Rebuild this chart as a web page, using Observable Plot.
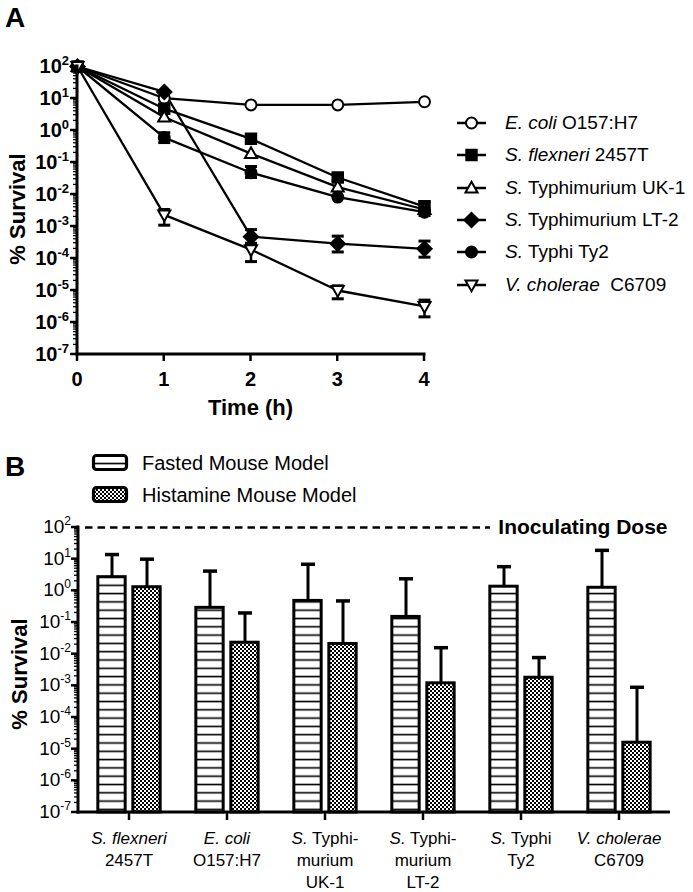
<!DOCTYPE html>
<html>
<head>
<meta charset="utf-8">
<script src="https://cdn.jsdelivr.net/npm/d3@7"></script>
<script src="https://cdn.jsdelivr.net/npm/@observablehq/plot@0.6"></script>
<style>
 html,body{margin:0;padding:0;background:#fff;}
 #wrap{position:relative;width:693px;height:892px;overflow:hidden;background:#fff;font-family:"Liberation Sans",Arial,Helvetica,sans-serif;color:#000;}
 #wrap > *{position:absolute;}
 .panel{font-weight:bold;font-size:28px;line-height:1;}
 .legA{font-size:19px;white-space:nowrap;display:flex;align-items:center;height:24px;}
 .legB{font-size:20px;white-space:nowrap;display:flex;align-items:center;height:24px;font-family:"Liberation Sans Narrow","Arial Narrow","Liberation Sans",sans-serif;}
</style>
</head>
<body>
<svg width="0" height="0" style="position:absolute">
<defs>
 <pattern id="hstripe" patternUnits="userSpaceOnUse" width="10" height="8.3">
   <rect width="10" height="8.3" fill="white"/>
   <rect y="3.4" width="10" height="1.6" fill="black"/>
 </pattern>
 <pattern id="checker" patternUnits="userSpaceOnUse" width="4" height="4">
   <rect width="4" height="4" fill="white"/>
   <rect width="2" height="2" fill="black"/>
   <rect x="2" y="2" width="2" height="2" fill="black"/>
 </pattern>
</defs>
</svg>
<div id="wrap"></div>
<script>
// ---------------- DATA: Panel A ----------------
const times = [0, 1, 2, 3, 4];
const seriesKeys = ["ecoli", "flexneri", "uk1", "lt2", "ty2", "vch"];
const seriesItalic = ["E. coli", "S. flexneri", "S.", "S.", "S.", "V. cholerae"];
const seriesPlain = [" O157:H7", " 2457T", " Typhimurium UK-1", " Typhimurium LT-2", " Typhi Ty2", "  C6709"];
const ecoliValues    = [100, 10.2, 6.3, 6.3, 7.9];
const flexneriValues = [100, 4.8, 0.55, 0.034, 0.0042];
const uk1Values      = [100, 2.6, 0.19, 0.017, 0.0034];
const lt2Values      = [100, 16, 4.8e-4, 2.9e-4, 2e-4];
const ty2Values      = [100, 0.6, 0.048, 0.0083, 0.0028];
const vchValues      = [100, 0.0023, 1.9e-4, 1e-5, 3.2e-6];
// error bars (low / high), null = hidden behind marker
const flexneriLow  = [null, null, null, 0.027, 0.003];
const flexneriHigh = [null, null, null, 0.045, 0.006];
const ty2Low  = [null, 0.42, 0.034, null, 0.0022];
const ty2High = [null, 0.85, 0.075, null, 0.0036];
const lt2Low  = [null, null, 3e-4, 1.6e-4, 1.1e-4];
const lt2High = [null, null, 8e-4, 5e-4, 3.5e-4];
const vchLow  = [null, 0.0011, 8e-5, 5.5e-6, 1.5e-6];
const vchHigh = [null, 0.0034, 2.7e-4, 1.4e-5, 5e-6];
const yTickExponents = [2, 1, 0, -1, -2, -3, -4, -5, -6, -7];

// ---------------- DATA: Panel B ----------------
const categories = ["flexneri", "ecoli", "uk1", "lt2", "ty2", "vch"];
const catLine1Italic = ["S. flexneri", "E. coli", "S.", "S.", "S.", "V. cholerae"];
const catLine1Plain  = ["", "", " Typhi-", " Typhi-", " Typhi", ""];
const catLine2 = ["2457T", "O157:H7", "murium", "murium", "Ty2", "C6709"];
const catLine3 = ["", "", "UK-1", "LT-2", "", ""];
const fastedValues    = [2.7, 0.29, 0.48, 0.15, 1.35, 1.25];
const fastedErrTop    = [14, 4.2, 6.9, 2.4, 5.8, 19];
const histamineValues = [1.3, 0.023, 0.021, 0.0012, 0.0018, 1.6e-5];
const histamineErrTop = [10, 0.2, 0.48, 0.016, 0.0078, 9e-4];
const modelNames = ["Fasted Mouse Model", "Histamine Mouse Model"];
const inoculatingDose = 100;

// ---------------- helpers ----------------
function sym(kind) {
  return {draw(ctx, size) {
    const r = Math.sqrt(size / Math.PI);
    if (kind === "circle") { ctx.moveTo(r, 0); ctx.arc(0, 0, r, 0, 2 * Math.PI); }
    else if (kind === "square") { const s = 0.95 * r; ctx.moveTo(-s, -s); ctx.lineTo(s, -s); ctx.lineTo(s, s); ctx.lineTo(-s, s); ctx.closePath(); }
    else if (kind === "up") { ctx.moveTo(0, -1.15 * r); ctx.lineTo(1.1 * r, 0.8 * r); ctx.lineTo(-1.1 * r, 0.8 * r); ctx.closePath(); }
    else if (kind === "down") { ctx.moveTo(0, 1.15 * r); ctx.lineTo(1.1 * r, -0.8 * r); ctx.lineTo(-1.1 * r, -0.8 * r); ctx.closePath(); }
    else if (kind === "diamond") { const s = 1.3 * r; ctx.moveTo(0, -s); ctx.lineTo(s, 0); ctx.lineTo(0, s); ctx.lineTo(-s, 0); ctx.closePath(); }
    else if (kind === "cap") { ctx.moveTo(-r, 0); ctx.lineTo(r, 0); }
  }};
}
const seriesSymbol = ["circle", "square", "up", "diamond", "circle", "down"];
const seriesFill = ["white", "black", "white", "black", "black", "white"];
const capSym = sym("cap");

function scaleFn(s) {
  if (s && typeof s.apply === "function") return v => s.apply(v);
  if (s.type === "log") return d3.scaleLog().domain(s.domain).range(s.range);
  if (s.type === "band") return d3.scaleBand().domain(s.domain).range(s.range).paddingInner(s.paddingInner || 0).paddingOuter(s.paddingOuter || 0).align(s.align ?? 0.5);
  return d3.scaleLinear().domain(s.domain).range(s.range);
}

function logAxis(plot, opt) {
  const svg = d3.select(plot);
  const y = scaleFn(plot.scale("y"));
  const xr = plot.scale("x").range;
  const x0 = Math.min(xr[0], xr[1]);
  const g = svg.append("g").attr("stroke", "black");
  const top = y(Math.pow(10, d3.max(yTickExponents))), bot = y(Math.pow(10, d3.min(yTickExponents)));
  g.append("line").attr("x1", x0).attr("x2", x0).attr("y1", top - 1.5).attr("y2", bot + 1.5).attr("stroke-width", 3);
  yTickExponents.forEach(e => {
    const yy = y(Math.pow(10, e));
    g.append("line").attr("x1", x0 - 7).attr("x2", x0).attr("y1", yy).attr("y2", yy).attr("stroke-width", 2.5);
    if (e < d3.max(yTickExponents)) {
      for (let k = 2; k <= 9; k++) {
        const ym = y(k * Math.pow(10, e));
        g.append("line").attr("x1", x0 - 4).attr("x2", x0).attr("y1", ym).attr("y2", ym).attr("stroke-width", 1.3);
      }
    }
    const t = svg.append("text").attr("x", x0 - opt.gap).attr("y", yy + opt.base)
      .attr("text-anchor", "end").attr("font-family", opt.family).attr("font-size", opt.size)
      .attr("font-weight", opt.weight).attr("fill", "black");
    t.append("tspan").text("10");
    t.append("tspan").attr("dy", -opt.supDy).attr("font-size", opt.supSize).text(e < 0 ? "-" + (-e) : String(e));
  });
  return {x0, bot};
}

const wrap = document.getElementById("wrap");

// ---------------- Panel A ----------------
const rowsA = [];
const allValues = [ecoliValues, flexneriValues, uk1Values, lt2Values, ty2Values, vchValues];
const allLow = [null, flexneriLow, null, lt2Low, ty2Low, vchLow];
const allHigh = [null, flexneriHigh, null, lt2High, ty2High, vchHigh];
seriesKeys.forEach((s, i) => times.forEach((t, j) => rowsA.push({
  series: s, time: t, value: allValues[i][j],
  lo: allLow[i] ? allLow[i][j] : null, hi: allHigh[i] ? allHigh[i][j] : null
})));
const errA = rowsA.filter(d => d.lo != null);

const marksA = [
  Plot.line(rowsA, {x: "time", y: "value", z: "series", stroke: "black", strokeWidth: 2.3}),
  Plot.ruleX(errA, {x: "time", y1: "lo", y2: "hi", stroke: "black", strokeWidth: 2.5}),
  Plot.dot(errA, {x: "time", y: "lo", symbol: capSym, r: 6, fill: "none", stroke: "black", strokeWidth: 3}),
  Plot.dot(errA, {x: "time", y: "hi", symbol: capSym, r: 6, fill: "none", stroke: "black", strokeWidth: 3})
];
seriesKeys.forEach((s, i) => {
  marksA.push(Plot.dot(rowsA.filter(d => d.series === s), {
    x: "time", y: "value", symbol: sym(seriesSymbol[i]), r: 5.5,
    fill: seriesFill[i], stroke: "black", strokeWidth: 2
  }));
});

const plotA = Plot.plot({
  width: 693, height: 430,
  marginLeft: 77, marginRight: 269, marginTop: 66, marginBottom: 76,
  x: {domain: [d3.min(times), d3.max(times)], axis: null},
  y: {type: "log", domain: [Math.pow(10, d3.min(yTickExponents)), Math.pow(10, d3.max(yTickExponents))], axis: null},
  marks: marksA
});
plotA.style.position = "absolute"; plotA.style.left = "0px"; plotA.style.top = "0px";
wrap.appendChild(plotA);
{
  const ax = logAxis(plotA, {gap: 8, base: 7, family: "Liberation Sans, Arial, sans-serif", size: 20, weight: "bold", supSize: 13, supDy: 8});
  const svg = d3.select(plotA);
  const x = scaleFn(plotA.scale("x"));
  const xr = plotA.scale("x").range;
  svg.append("line").attr("x1", xr[0] - 1.5).attr("x2", xr[1] + 1.5).attr("y1", ax.bot).attr("y2", ax.bot).attr("stroke", "black").attr("stroke-width", 3);
  times.forEach(t => {
    svg.append("line").attr("x1", x(t)).attr("x2", x(t)).attr("y1", ax.bot).attr("y2", ax.bot + 7).attr("stroke", "black").attr("stroke-width", 2.5);
    svg.append("text").attr("x", x(t)).attr("y", ax.bot + 32).attr("text-anchor", "middle")
      .attr("font-family", "Liberation Sans Narrow, Liberation Sans, Arial, sans-serif").attr("font-size", 20).attr("font-weight", "bold").text(String(t));
  });
  svg.append("text").attr("x", (xr[0] + xr[1]) / 2).attr("y", ax.bot + 61).attr("text-anchor", "middle")
    .attr("font-family", "Liberation Sans Narrow, Liberation Sans, Arial, sans-serif").attr("font-size", 22).attr("font-weight", "bold").text("Time (h)");
  svg.append("text").attr("transform", "translate(25,209) rotate(-90)").attr("text-anchor", "middle")
    .attr("font-family", "Liberation Sans, Arial, sans-serif").attr("font-size", 22).attr("font-weight", "bold").text("% Survival");
}

// Panel labels
const lblA = document.createElement("div"); lblA.className = "panel"; lblA.style.left = "5px"; lblA.style.top = "4px"; lblA.textContent = "A"; wrap.appendChild(lblA);
const lblB = document.createElement("div"); lblB.className = "panel"; lblB.style.left = "5px"; lblB.style.top = "453px"; lblB.textContent = "B"; wrap.appendChild(lblB);

// Legend A
seriesKeys.forEach((s, i) => {
  const row = document.createElement("div");
  row.className = "legA";
  row.style.left = "455px";
  row.style.top = (123 + 32.3 * i - 12) + "px";
  const svg = d3.create("svg").attr("width", 34).attr("height", 24);
  svg.append("line").attr("x1", 2).attr("x2", 31).attr("y1", 12).attr("y2", 12).attr("stroke", "black").attr("stroke-width", 2.5);
  const p = d3.path();
  sym(seriesSymbol[i]).draw(p, Math.PI * 5.5 * 5.5);
  svg.append("path").attr("d", p.toString()).attr("transform", "translate(16.5,12)").attr("fill", seriesFill[i]).attr("stroke", "black").attr("stroke-width", 2);
  row.appendChild(svg.node());
  const txt = document.createElement("span");
  txt.style.marginLeft = "16px";
  const it = document.createElement("i"); it.textContent = seriesItalic[i];
  txt.appendChild(it);
  txt.appendChild(document.createTextNode(seriesPlain[i]));
  txt.style.whiteSpace = "pre";
  row.appendChild(txt);
  wrap.appendChild(row);
});

// ---------------- Panel B ----------------
const rowsF = categories.map((c, i) => ({cat: c, value: fastedValues[i], err: fastedErrTop[i]}));
const rowsH = categories.map((c, i) => ({cat: c, value: histamineValues[i], err: histamineErrTop[i]}));
const widthB = 693, mL = 78, mR = 23;
const bw = (widthB - mL - mR) / categories.length;
const barW = 28, off = 17.5;
const fInL = bw / 2 - off - barW / 2, fInR = bw - fInL - barW;
const hInL = bw / 2 + off - barW / 2, hInR = bw - hInL - barW;
const yMinB = Math.pow(10, d3.min(yTickExponents));

const plotB = Plot.plot({
  width: widthB, height: 452,
  marginLeft: mL, marginRight: mR, marginTop: 87, marginBottom: 80,
  x: {domain: categories, padding: 0, axis: null},
  y: {type: "log", domain: [yMinB, Math.pow(10, d3.max(yTickExponents))], axis: null},
  marks: [
    Plot.ruleY([inoculatingDose], {y: d => d, stroke: "black", strokeWidth: 2.5, strokeDasharray: "7.5,5", insetLeft: 7, insetRight: 180}),
    Plot.text([inoculatingDose], {y: d => d, text: () => "Inoculating Dose", frameAnchor: "right", textAnchor: "end", dx: -3,
      fontSize: 21, fontWeight: "bold", fontFamily: "Liberation Sans Narrow, Liberation Sans, Arial, sans-serif", fill: "black"}),
    Plot.ruleX(rowsF, {x: "cat", y1: "value", y2: "err", dx: -off, stroke: "black", strokeWidth: 3}),
    Plot.ruleX(rowsH, {x: "cat", y1: "value", y2: "err", dx: off, stroke: "black", strokeWidth: 3}),
    Plot.barY(rowsF, {x: "cat", y1: () => yMinB, y2: "value", insetLeft: fInL, insetRight: fInR, fill: "url(#hstripe)", stroke: "black", strokeWidth: 3}),
    Plot.barY(rowsH, {x: "cat", y1: () => yMinB, y2: "value", insetLeft: hInL, insetRight: hInR, fill: "url(#checker)", stroke: "black", strokeWidth: 3}),
    Plot.dot(rowsF, {x: "cat", y: "err", dx: -off, symbol: capSym, r: 7, fill: "none", stroke: "black", strokeWidth: 3.5}),
    Plot.dot(rowsH, {x: "cat", y: "err", dx: off, symbol: capSym, r: 7, fill: "none", stroke: "black", strokeWidth: 3.5})
  ]
});
plotB.style.position = "absolute"; plotB.style.left = "0px"; plotB.style.top = "440px";
wrap.appendChild(plotB);
{
  const ax = logAxis(plotB, {gap: 7, base: 6, family: "Liberation Sans Narrow, Liberation Sans, Arial, sans-serif", size: 19, weight: "normal", supSize: 12, supDy: 8});
  const svg = d3.select(plotB);
  const sx = plotB.scale("x");
  const x = scaleFn(sx);
  const bwid = sx.bandwidth || (x.bandwidth ? x.bandwidth() : bw);
  const xr = sx.range;
  svg.append("line").attr("x1", xr[0] - 1.5).attr("x2", xr[1]).attr("y1", ax.bot).attr("y2", ax.bot).attr("stroke", "black").attr("stroke-width", 3);
  categories.forEach((c, i) => {
    const cx = x(c) + bwid / 2;
    svg.append("line").attr("x1", cx).attr("x2", cx).attr("y1", ax.bot).attr("y2", ax.bot + 8).attr("stroke", "black").attr("stroke-width", 2.5);
    const fam = "Liberation Sans, Arial, sans-serif";
    const t1 = svg.append("text").attr("x", cx).attr("y", ax.bot + 32).attr("text-anchor", "middle").attr("font-family", fam).attr("font-size", 17).attr("xml:space", "preserve");
    t1.append("tspan").attr("font-style", "italic").text(catLine1Italic[i]);
    if (catLine1Plain[i]) t1.append("tspan").text(catLine1Plain[i]);
    svg.append("text").attr("x", cx).attr("y", ax.bot + 54).attr("text-anchor", "middle").attr("font-family", fam).attr("font-size", 17).text(catLine2[i]);
    if (catLine3[i]) svg.append("text").attr("x", cx).attr("y", ax.bot + 76).attr("text-anchor", "middle").attr("font-family", fam).attr("font-size", 17).text(catLine3[i]);
  });
  svg.append("text").attr("transform", "translate(27,234) rotate(-90)").attr("text-anchor", "middle")
    .attr("font-family", "Liberation Sans, Arial, sans-serif").attr("font-size", 22).attr("font-weight", "bold").text("% Survival");
}

// Legend B
modelNames.forEach((m, i) => {
  const row = document.createElement("div");
  row.className = "legB";
  row.style.left = "90px";
  row.style.top = (463 + 32 * i - 12) + "px";
  const svg = d3.create("svg").attr("width", 40).attr("height", 24);
  svg.append("rect").attr("x", 3.5).attr("y", 4.5).attr("width", 33).attr("height", 14).attr("rx", 3)
    .attr("fill", i === 0 ? "url(#hstripe)" : "url(#checker)").attr("stroke", "black").attr("stroke-width", 3.2);
  row.appendChild(svg.node());
  const txt = document.createElement("span");
  txt.style.marginLeft = "12px";
  txt.textContent = m;
  row.appendChild(txt);
  wrap.appendChild(row);
});
</script>
</body>
</html>
